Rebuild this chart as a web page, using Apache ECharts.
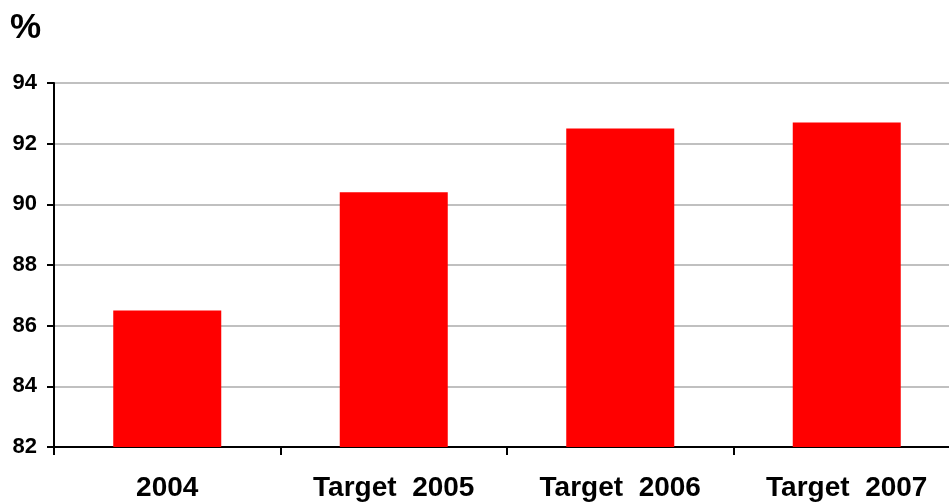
<!DOCTYPE html>
<html><head><meta charset="utf-8">
<script src="https://cdn.jsdelivr.net/npm/echarts@6/dist/echarts.min.js"></script>
<style>html,body{margin:0;padding:0;background:#fff}#c{width:949px;height:502px}</style>
</head><body><div id="c"></div>
<script>
const categories = ['2004', 'Target  2005', 'Target  2006', 'Target  2007'];
const values = [86.5, 90.4, 92.5, 92.7];
const yTicks = { min: 82, max: 94, interval: 2 };

const FONT = '"Liberation Sans", Arial, sans-serif';
const chart = echarts.init(document.getElementById('c'), null, { renderer: 'canvas' });
chart.setOption({
  animation: false,
  backgroundColor: '#fff',
  graphic: [{ type: 'text', left: 10, top: 11, style: { text: '%', font: 'bold 35px ' + FONT, fill: '#000' } }],
  grid: { left: 54, width: 906, top: 83, height: 364, containLabel: false, outerBoundsMode: 'none' },
  xAxis: {
    type: 'category', data: categories,
    axisLine: { lineStyle: { color: '#000', width: 2 } },
    axisTick: { show: true, length: 8, lineStyle: { color: '#000', width: 2 } },
    axisLabel: { color: '#000', fontWeight: 'bold', fontSize: 28, fontFamily: FONT, margin: 27, interval: 0 }
  },
  yAxis: {
    type: 'value', min: yTicks.min, max: yTicks.max, interval: yTicks.interval,
    axisLine: { show: true, lineStyle: { color: '#000', width: 2 } },
    axisTick: { show: true, length: 7, lineStyle: { color: '#000', width: 2 } },
    splitLine: { lineStyle: { color: '#c0c0c0', width: 2 } },
    axisLabel: { color: '#000', fontWeight: 'bold', fontSize: 22, fontFamily: FONT, margin: 17 }
  },
  series: [{
    type: 'bar', data: values, barWidth: 108,
    itemStyle: { color: '#ff0000' }
  }]
});
</script></body></html>
